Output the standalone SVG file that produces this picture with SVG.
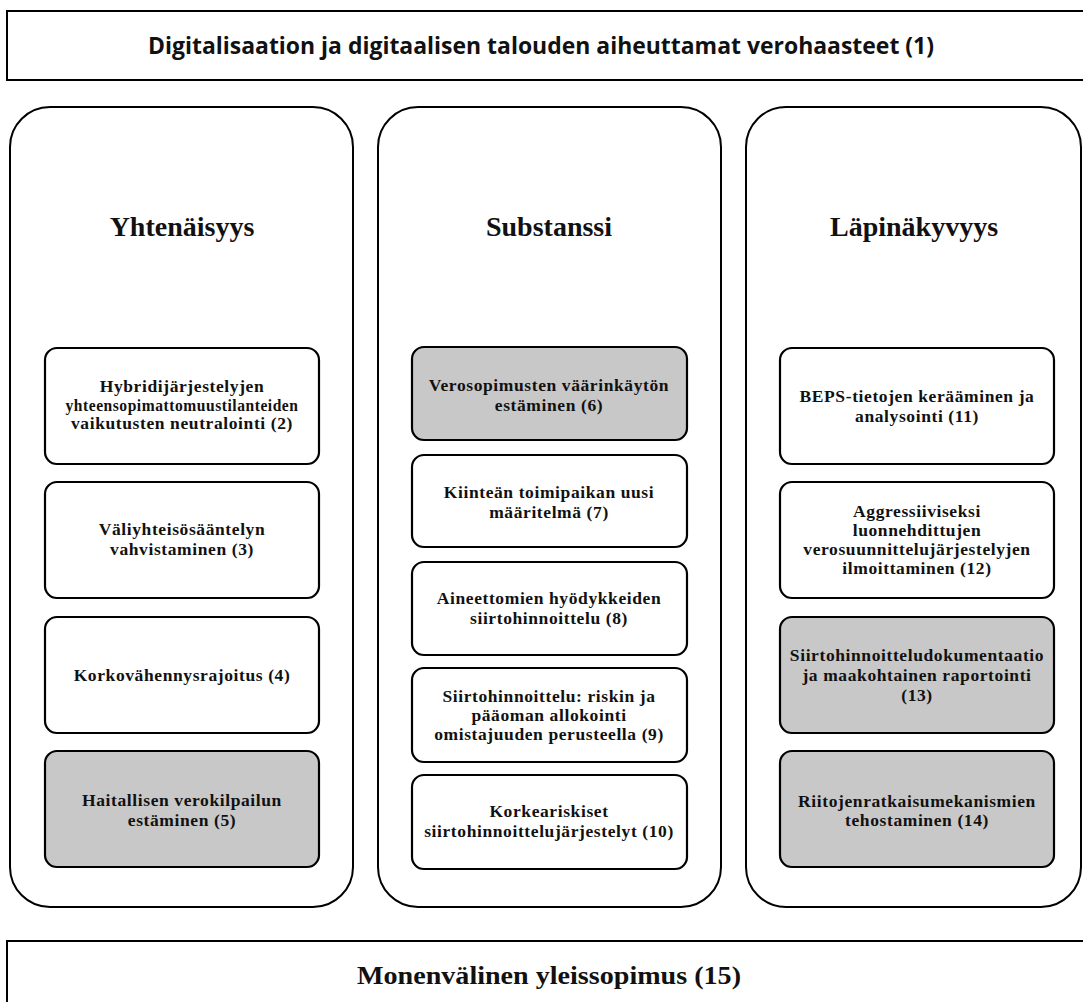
<svg xmlns="http://www.w3.org/2000/svg" width="1083" height="1002" viewBox="0 0 1083 1002">
<style>
.bar{fill:#fff;stroke:#000;stroke-width:2}
.col{fill:#fff;stroke:#000;stroke-width:2}
.box{fill:#fff;stroke:#000;stroke-width:2.2}
.g{fill:#c8c8c8}
.t{font-family:"Liberation Serif","Times New Roman",serif;font-weight:bold;font-size:17.5px;letter-spacing:0.6px;fill:#111;text-anchor:middle}
.h{font-family:"Liberation Serif","Times New Roman",serif;font-weight:bold;font-size:28px;fill:#111;text-anchor:middle}
.top{font-family:"Open Sans","Liberation Sans",sans-serif;font-weight:bold;font-size:24px;fill:#111;text-anchor:middle}
.bot{font-family:"Liberation Serif","Times New Roman",serif;font-weight:bold;font-size:26px;fill:#111;text-anchor:middle}
</style>
<rect width="1083" height="1002" fill="#fff"/>
<g id="connectors"/>
<g id="n1"><rect class="bar" x="7" y="11" width="1090" height="69"/><text class="top" x="541" y="54" textLength="786" lengthAdjust="spacingAndGlyphs">Digitalisaation ja digitaalisen talouden aiheuttamat verohaasteet (1)</text></g>
<g id="colA"><rect class="col" x="10" y="107" width="343" height="800" rx="40"/><text class="h" x="182" y="236">Yhtenäisyys</text></g>
<g id="colB"><rect class="col" x="378" y="107" width="343" height="800" rx="40"/><text class="h" x="549" y="236">Substanssi</text></g>
<g id="colC"><rect class="col" x="746" y="107" width="335" height="800" rx="40"/><text class="h" x="914" y="236">Läpinäkyvyys</text></g>
<g id="n2"><rect class="box" x="45" y="348" width="274" height="116" rx="12"/><text class="t" x="182" y="392">Hybridijärjestelyjen</text><text class="t" x="182" y="411" textLength="233" lengthAdjust="spacingAndGlyphs">yhteensopimattomuustilanteiden</text><text class="t" x="182" y="429">vaikutusten neutralointi (2)</text></g>
<g id="n3"><rect class="box" x="45" y="482" width="274" height="116" rx="12"/><text class="t" x="182" y="535">Väliyhteisösääntelyn</text><text class="t" x="182" y="555">vahvistaminen (3)</text></g>
<g id="n4"><rect class="box" x="45" y="617" width="274" height="116" rx="12"/><text class="t" x="182" y="681">Korkovähennysrajoitus (4)</text></g>
<g id="n5"><rect class="box g" x="45" y="751" width="274" height="116" rx="12"/><text class="t" x="182" y="806">Haitallisen verokilpailun</text><text class="t" x="182" y="826">estäminen (5)</text></g>
<g id="n6"><rect class="box g" x="412" y="347" width="275" height="93" rx="12"/><text class="t" x="549" y="391">Verosopimusten väärinkäytön</text><text class="t" x="549" y="411">estäminen (6)</text></g>
<g id="n7"><rect class="box" x="412" y="455" width="275" height="92" rx="12"/><text class="t" x="549" y="498">Kiinteän toimipaikan uusi</text><text class="t" x="549" y="518">määritelmä (7)</text></g>
<g id="n8"><rect class="box" x="412" y="562" width="275" height="93" rx="12"/><text class="t" x="549" y="604">Aineettomien hyödykkeiden</text><text class="t" x="549" y="624">siirtohinnoittelu (8)</text></g>
<g id="n9"><rect class="box" x="412" y="668" width="275" height="94" rx="12"/><text class="t" x="549" y="702">Siirtohinnoittelu: riskin ja</text><text class="t" x="549" y="721">pääoman allokointi</text><text class="t" x="549" y="740">omistajuuden perusteella (9)</text></g>
<g id="n10"><rect class="box" x="412" y="775" width="275" height="94" rx="12"/><text class="t" x="549" y="817">Korkeariskiset</text><text class="t" x="549" y="837">siirtohinnoittelujärjestelyt (10)</text></g>
<g id="n11"><rect class="box" x="780" y="348" width="274" height="116" rx="12"/><text class="t" x="917" y="402">BEPS-tietojen kerääminen ja</text><text class="t" x="917" y="422">analysointi (11)</text></g>
<g id="n12"><rect class="box" x="780" y="482" width="274" height="116" rx="12"/><text class="t" x="917" y="517">Aggressiiviseksi</text><text class="t" x="917" y="536">luonnehdittujen</text><text class="t" x="917" y="555">verosuunnittelujärjestelyjen</text><text class="t" x="917" y="574">ilmoittaminen (12)</text></g>
<g id="n13"><rect class="box g" x="780" y="617" width="274" height="116" rx="12"/><text class="t" x="917" y="661">Siirtohinnoitteludokumentaatio</text><text class="t" x="917" y="681">ja maakohtainen raportointi</text><text class="t" x="917" y="701">(13)</text></g>
<g id="n14"><rect class="box g" x="780" y="751" width="274" height="116" rx="12"/><text class="t" x="917" y="807">Riitojenratkaisumekanismien</text><text class="t" x="917" y="826">tehostaminen (14)</text></g>
<g id="n15"><rect class="bar" x="7" y="941" width="1090" height="80"/><text class="bot" x="549" y="984" textLength="384" lengthAdjust="spacingAndGlyphs">Monenvälinen yleissopimus (15)</text></g>
</svg>
